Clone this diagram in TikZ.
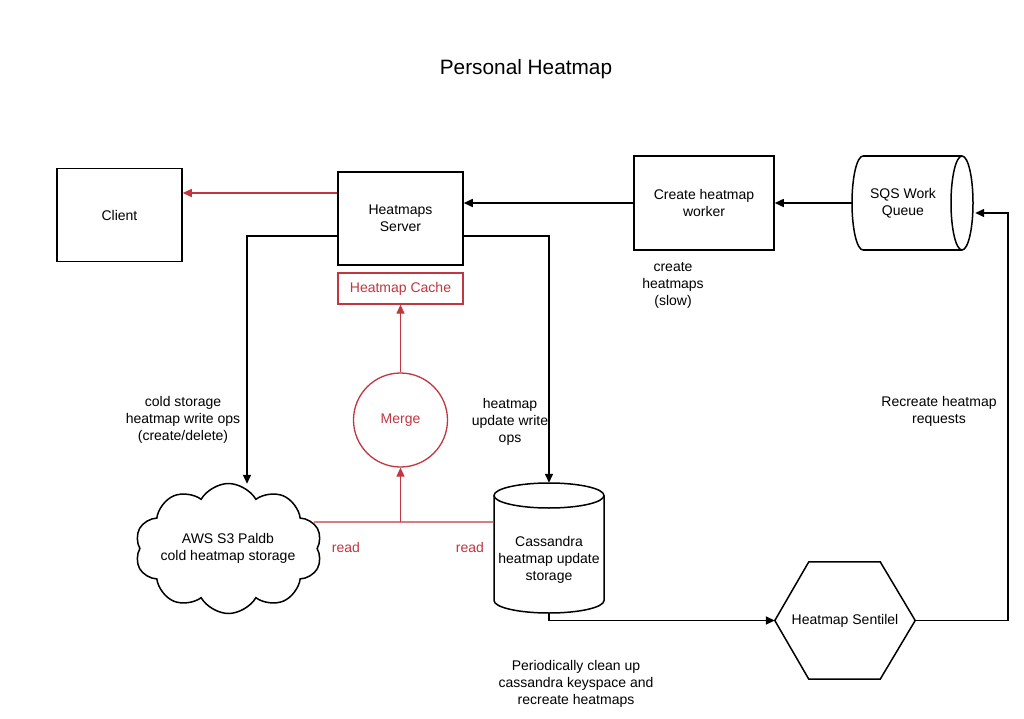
\documentclass[tikz,border=0pt]{standalone}
\usepackage{fontspec}
\setmainfont{Liberation Sans}
\usetikzlibrary{arrows.meta,shapes.symbols,calc}
\definecolor{hred}{RGB}{194,54,64}
\begin{document}
\begin{tikzpicture}[x=1pt,y=-1pt,
  every node/.style={font=\fontsize{14}{17}\selectfont, align=center, inner sep=0pt},
  box/.style={draw, line width=1.5pt, minimum width=125, minimum height=93},
  redbox/.style={draw=hred, line width=1.3pt, text=hred},
  arr/.style={line width=1.5pt, -{Triangle[length=9pt,width=8pt]}},
  rarr/.style={draw=hred, line width=1.3pt, -{Triangle[length=9pt,width=8pt]}},
  rline/.style={draw=hred, line width=1.3pt},
  lbl/.style={},
  rlbl/.style={text=hred},
  shp/.style={line width=1.5pt},
]
\useasboundingbox (0,0) rectangle (1024,719);
\fill[white] (0,0) rectangle (1024,719);

\node (title) at (526,69) {\fontsize{20.8}{24}\selectfont Personal Heatmap};

\node[box] (client) at (119.5,215) {Client};
\node[box] (server) at (400.5,218.5) {Heatmaps\\Server};
\node[box, minimum width=140, minimum height=94] (worker) at (704,203) {Create heatmap\\worker};
\node[redbox, minimum width=125, minimum height=31] (cache) at (400.5,288.5) {Heatmap Cache};
\node[circle, draw=hred, line width=1.3pt, text=hred, minimum size=94] (merge) at (400.5,420) {Merge};

% SQS queue (horizontal cylinder)
\node[minimum width=123, minimum height=94] (sqs) at (913.5,203) {};
\draw[shp] (863,156) -- (962,156) (863,250) -- (962,250);
\draw[shp] (962,203) ellipse [x radius=11pt, y radius=47pt];
\draw[shp] (863,156) arc[start angle=90, end angle=270, x radius=11pt, y radius=47pt];
\node at (903,203) {SQS Work\\Queue};

% Cassandra (vertical cylinder)
\node[minimum width=110, minimum height=130] (cas) at (549,548) {};
\draw[shp] (549,495.5) ellipse [x radius=55pt, y radius=12.5pt];
\draw[shp] (604,495.5) -- (604,600.5) arc[start angle=360, end angle=180, x radius=55pt, y radius=12.5pt] -- (494,495.5);
\node at (549,560) {Cassandra\\heatmap update\\storage};

% Cloud
\node[cloud, draw, line width=1.5pt, cloud puffs=10, cloud puff arc=120,
      minimum width=187, minimum height=130] (cloud) at (228.5,548.5) {};
\node at (228,548) {AWS S3 Paldb\\cold heatmap storage};

% Hexagon sentinel
\node[minimum width=140, minimum height=117] (sent) at (845,620.5) {Heatmap Sentilel};
\draw[shp] (sent.west) -- ($(sent.north west)+(34,0)$) -- ($(sent.north east)+(-35,0)$) -- (sent.east)
  -- ($(sent.south east)+(-35,0)$) -- ($(sent.south west)+(34,0)$) -- cycle;

% connectors
\draw[rarr] (server.west |- 0,193) -- (client.east |- 0,193);
\draw[arr] (sqs.west) -- (worker.east);
\draw[arr] (worker.west) -- (server.east |- worker.west);
\draw[arr] (server.west |- 0,236) -| ($(cloud.north)+(18.5,1)$);
\draw[arr] (server.east |- 0,236) -| (cas.north);
\draw[rarr] (merge.north) -- (cache.south);
\coordinate (jn) at (400.5,522);
\draw[rline] ($(cloud.east)+(-4,-26.5)$) -- (cas.west |- jn);
\draw[rarr] (jn) -- (merge.south);
\draw[arr] (cas.south) -- (cas.south |- sent.west) -- (sent.west);
\draw[arr] (sent.east) -| (1008,213) -- (sqs.east |- 0,213);

% labels
\node[lbl] at (673,285) {create\\heatmaps\\(slow)};
\node[lbl] at (183,420) {cold storage\\heatmap write ops\\(create/delete)};
\node[lbl] at (510,422) {heatmap\\update write\\ops};
\node[lbl] at (939,411) {Recreate heatmap\\requests};
\node[rlbl] at (346,547) {read};
\node[rlbl] at (470,547) {read};
\node[lbl] at (576,684) {Periodically clean up\\cassandra keyspace and\\recreate heatmaps};
\end{tikzpicture}
\end{document}
